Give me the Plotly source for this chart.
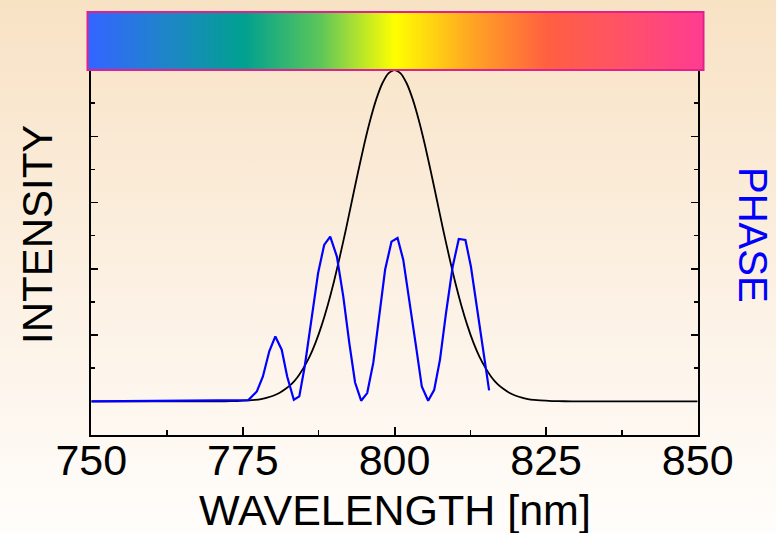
import base64
import plotly.graph_objects as go

# ---------------- data ----------------
# Intensity spectrum (black curve)
INT_NM = [750, 770, 772, 774,
          776, 777, 778, 779, 780, 781, 782, 783, 784, 785, 786, 787, 788, 789, 790, 791, 792, 793,
          794, 795, 796, 797, 798, 799, 800, 801, 802, 803, 804, 805, 806, 807, 808, 809, 810, 811,
          812, 813, 814, 815, 816, 817, 818, 819, 820, 821, 822, 823, 824,
          826, 828, 830, 850]
INT_VAL = [0.0, 0.0001, 0.0003, 0.001,
           0.0028, 0.0045, 0.007, 0.011, 0.017, 0.025, 0.037, 0.052, 0.073, 0.101, 0.135, 0.178,
           0.230, 0.291, 0.360, 0.438, 0.520, 0.607, 0.693, 0.775, 0.849, 0.912, 0.960, 0.990,
           1.000,
           0.990, 0.960, 0.912, 0.849, 0.775, 0.693, 0.607, 0.520, 0.438, 0.360, 0.291, 0.230,
           0.178, 0.135, 0.101, 0.073, 0.052, 0.037, 0.025, 0.017, 0.011, 0.007, 0.0045, 0.0028,
           0.001, 0.0003, 0.0001, 0.0]

# Spectral phase (blue polyline)
PH_NM = [750, 775.9, 777.3, 778.3, 779.35, 780.35, 781.4, 782.3, 783.4, 784.3, 785.2, 786.35, 787.4,
         788.4, 789.4, 790.5, 791.55, 792.55, 793.5, 794.5, 795.5, 796.5, 797.5, 798.45, 799.5,
         800.5, 801.45, 802.55, 803.55, 804.5, 805.55, 806.55, 807.5, 808.5, 809.6, 810.6, 811.7,
         812.6, 813.55, 814.65, 815.6]
PH_VAL = [0.0, 0.004, 0.030, 0.075, 0.151, 0.196, 0.156, 0.075, 0.005, 0.015, 0.106, 0.246, 0.387,
          0.472, 0.497, 0.437, 0.317, 0.176, 0.057, 0.002, 0.025, 0.116, 0.256, 0.397, 0.482,
          0.493, 0.427, 0.297, 0.166, 0.045, 0.002, 0.035, 0.126, 0.267, 0.407, 0.490, 0.487,
          0.407, 0.286, 0.146, 0.033]

X_TICKS = [750, 775, 800, 825, 850]
X_TICK_TEXT = ["750", "775", "800", "825", "850"]
Y_MAJOR = [0.2, 0.4, 0.6, 0.8]
Y_MINOR = [0.1, 0.3, 0.5, 0.7, 0.9]

# Spectrum colour bar stops (wavelength, colour)
SPEC_NM = [750, 762.5, 775, 787.5, 793, 800, 812.5, 825, 837.5, 850]
SPEC_COL = ["#3366FF", "#1E86C8", "#00A190", "#5CC65A", "#A6DF35", "#FFFF00",
            "#FFA623", "#FF6040", "#FF5268", "#FF3D8F"]

W, H = 776, 533
FONT = "Liberation Sans, Arial, sans-serif"

def px(xp):
    return xp / W

def py(yp):
    return 1 - yp / H

# background gradient (page)
svg = (f'<svg xmlns="http://www.w3.org/2000/svg" width="{W}" height="{H}" '
       f'viewBox="0 0 {W} {H}" preserveAspectRatio="none">'
       '<defs><linearGradient id="g" x1="0" y1="0" x2="0" y2="1">'
       '<stop offset="0" stop-color="#F8E2C4"/><stop offset="0.55" stop-color="#FCF1E4"/>'
       '<stop offset="1" stop-color="#FFFDFB"/></linearGradient></defs>'
       f'<rect width="{W}" height="{H}" fill="url(#g)"/></svg>')
bg_uri = "data:image/svg+xml;base64," + base64.b64encode(svg.encode()).decode()

fig = go.Figure()

# spectrum bar
cs = [[(n - SPEC_NM[0]) / (SPEC_NM[-1] - SPEC_NM[0]), c] for n, c in zip(SPEC_NM, SPEC_COL)]
fig.add_trace(go.Heatmap(x=SPEC_NM, y=[0, 1], z=[SPEC_NM, SPEC_NM], colorscale=cs,
                         zmin=SPEC_NM[0], zmax=SPEC_NM[-1], zsmooth="best", showscale=False,
                         hoverinfo="skip", xaxis="x3", yaxis="y3"))

fig.add_trace(go.Scatter(x=INT_NM, y=INT_VAL, mode="lines",
                         line=dict(color="black", width=1.8, shape="spline", smoothing=0.6),
                         xaxis="x", yaxis="y", showlegend=False))
fig.add_trace(go.Scatter(x=PH_NM, y=PH_VAL, mode="lines", line=dict(color="#0000FF", width=2.2),
                         xaxis="x", yaxis="y2", showlegend=False))

x_dom = [px(91.3), px(697.7)]
y_dom = [py(434.5), py(70)]

minor_y = dict(ticks="inside", ticklen=4, tickwidth=1.5, tickcolor="black", tickvals=Y_MINOR)

fig.update_layout(
    width=W, height=H, autosize=False,
    margin=dict(l=0, r=0, t=0, b=0, pad=0, autoexpand=False),
    paper_bgcolor="#FDF5EA",
    plot_bgcolor="#FFFEDC",
    showlegend=False,
    font=dict(family=FONT, color="black"),
    xaxis=dict(domain=x_dom, range=[750, 850], anchor="y", showline=True, linecolor="black", linewidth=2.5,
               ticks="inside", ticklen=8, tickwidth=2, tickcolor="black",
               tickvals=X_TICKS, ticktext=X_TICK_TEXT, tickfont=dict(size=43, family=FONT),
               ticklabelstandoff=-14, automargin=False,
               minor=dict(ticks="inside", ticklen=5, tickwidth=1.5, tickcolor="black", tick0=750, dtick=12.5),
               showgrid=False, zeroline=False, mirror=False),
    yaxis=dict(domain=y_dom, range=[-0.1, 1.0], anchor="x", showline=True, linecolor="black", linewidth=2.5,
               ticks="inside", ticklen=7, tickwidth=1.5, tickcolor="black", tickvals=Y_MAJOR,
               showticklabels=False, automargin=False, minor=minor_y,
               showgrid=False, zeroline=False),
    yaxis2=dict(range=[-0.1, 1.0], overlaying="y", side="right", anchor="x", showline=True,
                linecolor="black", linewidth=2.5, ticks="inside", ticklen=7, tickwidth=1.5,
                tickcolor="black", tickvals=Y_MAJOR, showticklabels=False, automargin=False,
                minor=minor_y, showgrid=False, zeroline=False),
    xaxis3=dict(domain=[px(87.5), px(703.5)], range=[749.3, 850.9], anchor="y3", visible=False),
    yaxis3=dict(domain=[py(70), py(12)], range=[0, 1], anchor="x3", visible=False),
    images=[dict(source=bg_uri, xref="paper", yref="paper", x=0, y=1, sizex=1, sizey=1,
                 sizing="stretch", layer="below", xanchor="left", yanchor="top")],
    shapes=[dict(type="rect", xref="paper", yref="paper", x0=px(87.5), x1=px(703.5), y0=py(70), y1=py(12),
                 line=dict(color="#E0208E", width=2), fillcolor="rgba(0,0,0,0)")],
    annotations=[
        dict(text="INTENSITY", x=px(37), y=py(235), xref="paper", yref="paper", showarrow=False,
             textangle=-90, xanchor="center", yanchor="middle", font=dict(size=42, family=FONT, color="black")),
        dict(text="PHASE", x=px(753), y=py(235), xref="paper", yref="paper", showarrow=False,
             textangle=90, xanchor="center", yanchor="middle", font=dict(size=40, family=FONT, color="#0000FF")),
        dict(text="WAVELENGTH [nm]", x=px(395), y=py(510), xref="paper", yref="paper", showarrow=False,
             xanchor="center", yanchor="middle", font=dict(size=43, family=FONT, color="black")),
    ],
)

fig.write_html("out.html", config={"displayModeBar": False, "staticPlot": True},
               post_script="document.body.style.margin='0';document.body.style.overflow='hidden';")
